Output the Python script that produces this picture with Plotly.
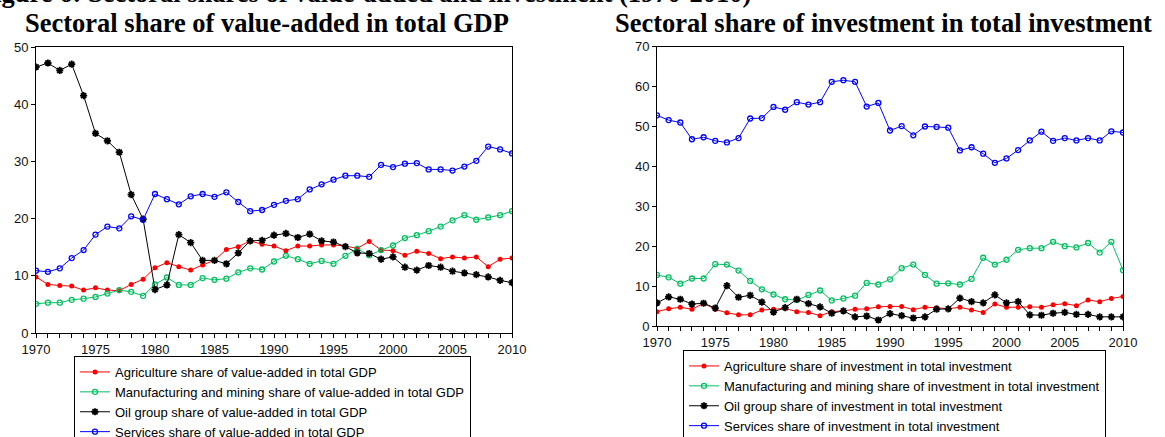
import plotly.graph_objects as go
from plotly.subplots import make_subplots

years = list(range(1970, 2011))

# value-added shares in total GDP (%)
gdp_agri = [9.8, 8.5, 8.3, 8.2, 7.5, 7.9, 7.5, 7.4, 8.5, 9.4,
            11.4, 12.3, 11.6, 11.0, 11.9, 12.7, 14.6, 15.1, 16.1, 15.5,
            15.2, 14.4, 15.2, 15.2, 15.4, 15.4, 15.2, 14.8, 16.0, 14.5,
            14.4, 13.6, 14.3, 13.9, 13.0, 13.3, 13.1, 13.3, 11.6, 12.9, 13.1]
gdp_manuf = [5.1, 5.3, 5.3, 5.8, 6.0, 6.3, 6.9, 7.5, 7.2, 6.5,
             8.5, 9.7, 8.4, 8.4, 9.6, 9.3, 9.5, 10.6, 11.3, 11.1,
             12.5, 13.5, 12.9, 12.1, 12.6, 12.1, 13.5, 14.7, 13.6, 14.5,
             15.3, 16.6, 17.1, 17.8, 18.6, 19.7, 20.6, 19.8, 20.2, 20.6, 21.3]
gdp_oil = [46.5, 47.2, 45.9, 47.0, 41.5, 34.9, 33.6, 31.6, 24.2, 19.9,
           7.6, 8.4, 17.2, 15.8, 12.7, 12.7, 12.1, 14.0, 16.1, 16.2,
           17.1, 17.4, 16.7, 17.3, 16.1, 15.9, 15.1, 14.0, 13.9, 12.9,
           13.3, 11.5, 11.0, 11.8, 11.5, 10.8, 10.5, 10.2, 9.8, 9.2, 8.8]
gdp_serv = [10.9, 10.7, 11.3, 13.1, 14.5, 17.2, 18.6, 18.3, 20.4, 19.8,
            24.3, 23.4, 22.5, 23.9, 24.3, 23.8, 24.6, 22.9, 21.3, 21.5,
            22.4, 23.1, 23.4, 25.1, 26.0, 26.8, 27.5, 27.5, 27.3, 29.4,
            29.0, 29.6, 29.7, 28.6, 28.6, 28.4, 29.1, 30.1, 32.6, 32.1, 31.4]

# investment shares in total investment (%)
inv_agri = [3.6, 4.3, 4.7, 4.2, 5.7, 4.2, 3.3, 2.8, 2.8, 4.0,
            4.2, 4.4, 3.6, 3.4, 2.6, 3.6, 3.8, 4.2, 4.3, 4.8,
            4.9, 4.9, 4.1, 4.7, 4.6, 4.3, 4.7, 4.0, 3.4, 5.5,
            4.7, 4.7, 4.8, 4.7, 5.3, 5.6, 5.1, 6.5, 6.1, 6.9, 7.4]
inv_manuf = [12.8, 12.2, 10.6, 11.9, 11.9, 15.5, 15.4, 13.9, 11.3, 9.2,
             7.9, 6.7, 6.5, 7.8, 8.9, 6.4, 6.9, 7.6, 10.8, 10.4,
             11.7, 14.5, 15.4, 12.8, 10.6, 10.7, 10.4, 11.8, 17.1, 15.4,
             16.6, 19.1, 19.5, 19.5, 21.1, 20.0, 19.7, 20.8, 18.4, 21.1, 14.0]
inv_oil = [5.8, 7.3, 6.7, 5.5, 5.7, 4.5, 10.1, 7.2, 7.7, 6.0,
           3.5, 4.6, 6.7, 5.6, 4.8, 3.2, 3.8, 2.3, 2.5, 1.5,
           3.1, 2.6, 2.0, 2.3, 4.2, 4.3, 7.0, 6.1, 5.8, 7.8,
           5.8, 6.1, 2.8, 2.7, 3.2, 3.4, 2.9, 2.9, 2.3, 2.3, 2.3]
inv_serv = [52.8, 51.6, 51.0, 46.8, 47.3, 46.4, 46.0, 47.1, 52.0, 52.1,
            54.9, 54.2, 56.1, 55.5, 56.1, 61.2, 61.6, 61.2, 55.0, 55.9,
            49.0, 50.1, 47.8, 50.0, 49.9, 49.7, 44.0, 44.8, 43.2, 40.9,
            42.0, 44.1, 46.5, 48.7, 46.4, 47.1, 46.5, 47.1, 46.5, 48.8, 48.5]

gdp_names = ["Agriculture share of value-added in total GDP",
             "Manufacturing and mining share of value-added in total GDP",
             "Oil group share of value-added in total GDP",
             "Services share of value-added in total GDP"]
inv_names = ["Agriculture share of investment in total investment",
             "Manufacturing and mining share of investment in total investment",
             "Oil group share of investment in total investment",
             "Services share of investment in total investment"]

W, H = 1165, 437
colors = ["#ff0000", "#00c060", "#000000", "#0000ff"]
markers = [dict(symbol="circle", size=5),
           dict(symbol="circle-open", size=5, line=dict(width=1.3)),
           dict(symbol="asterisk-open", size=6, line=dict(width=1.8)),
           dict(symbol="circle-open", size=5, line=dict(width=1.3))]

fig = make_subplots(rows=1, cols=2)

for vals, name, c, m in zip([gdp_agri, gdp_manuf, gdp_oil, gdp_serv], gdp_names, colors, markers):
    fig.add_trace(go.Scatter(x=years, y=vals, name=name, mode="lines+markers",
                             line=dict(color=c, width=1), marker=dict(color=c, **m),
                             legend="legend"), row=1, col=1)
for vals, name, c, m in zip([inv_agri, inv_manuf, inv_oil, inv_serv], inv_names, colors, markers):
    fig.add_trace(go.Scatter(x=years, y=vals, name=name, mode="lines+markers",
                             line=dict(color=c, width=1), marker=dict(color=c, **m),
                             legend="legend2"), row=1, col=2)

axis_style = dict(showline=True, linecolor="black", linewidth=1, mirror=True,
                  showgrid=False, zeroline=False, ticks="outside", ticklen=4,
                  tickcolor="black", tickfont=dict(family="Liberation Sans, Arial", size=13, color="#111"))

fig.update_xaxes(range=[1970, 2010], dtick=5, tick0=1970,
                 minor=dict(dtick=1, ticks="outside", ticklen=4, tickcolor="black"),
                 **axis_style)
fig.update_yaxes(**axis_style)
fig.update_xaxes(domain=[36 / W, 512 / W], row=1, col=1)
fig.update_xaxes(domain=[657 / W, 1123 / W], row=1, col=2)
fig.update_yaxes(domain=[1 - 333 / H, 1 - 47 / H], range=[0, 50], dtick=10, row=1, col=1)
fig.update_yaxes(domain=[1 - 326 / H, 1 - 46.7 / H], range=[0, 70], dtick=10, row=1, col=2)

title_font = dict(family="Liberation Serif, Times New Roman", size=26.5, color="black")
fig.add_annotation(text="<b>Sectoral share of value-added in total GDP</b>", x=267 / W, y=1 - 23 / H,
                   xref="paper", yref="paper", xanchor="center", yanchor="middle",
                   showarrow=False, font=title_font)
fig.add_annotation(text="<b>Sectoral share of investment in total investment</b>", x=883 / W, y=1 - 23 / H,
                   xref="paper", yref="paper", xanchor="center", yanchor="middle",
                   showarrow=False, font=title_font)
# figure caption, cut off by the top edge of the image
fig.add_annotation(text="<b>Figure 6: Sectoral shares of value-added and investment (1970-2010)</b>",
                   x=-24 / W, y=1 + 7 / H, xref="paper", yref="paper", xanchor="left", yanchor="middle",
                   showarrow=False, font=title_font)

legend_style = dict(bgcolor="white", bordercolor="black", borderwidth=1, itemwidth=30,
                    xanchor="left", yanchor="top", tracegroupgap=0,
                    font=dict(family="Liberation Sans, Arial", size=13, color="black"))
fig.update_layout(
    width=W, height=H,
    margin=dict(l=0, r=0, t=0, b=0, autoexpand=False),
    paper_bgcolor="white", plot_bgcolor="white",
    showlegend=True,
    legend=dict(x=74 / W, y=1 - 356 / H, **legend_style),
    legend2=dict(x=683 / W, y=1 - 350 / H, **legend_style),
)

fig.write_html("out.html", config={"displayModeBar": False},
               post_script="document.body.style.margin='0';")
